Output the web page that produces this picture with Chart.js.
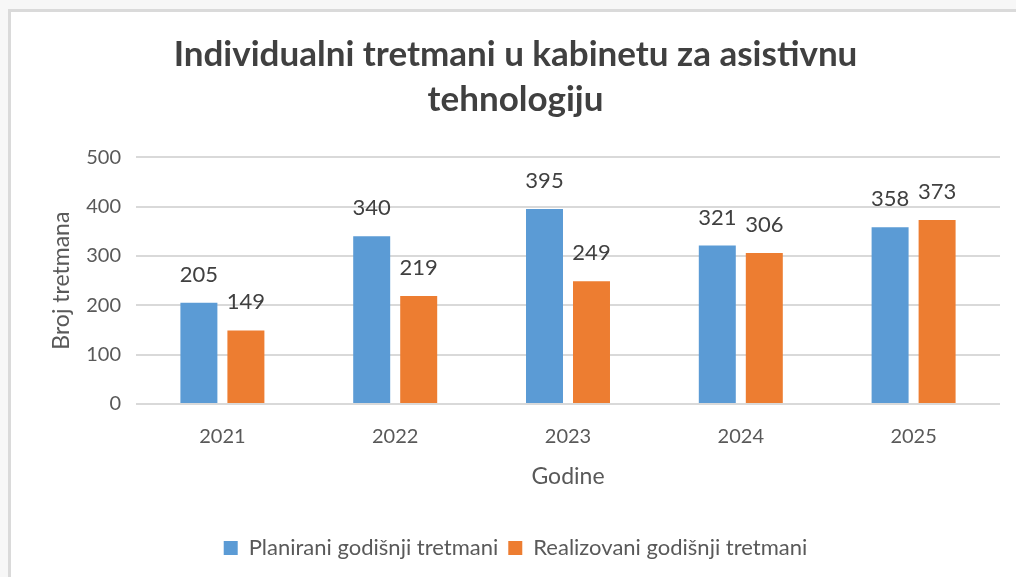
<!DOCTYPE html>
<html>
<head>
<meta charset="utf-8">
<script src="https://cdn.jsdelivr.net/npm/chart.js@4.4.0/dist/chart.umd.min.js"></script>
<style>
  html, body { margin: 0; padding: 0; }
  body { background: #f7f7f7; width: 1016px; height: 577px; overflow: hidden; position: relative; }
  #wrap {
    position: absolute; left: 8px; top: 9px;
    width: 1005px; height: 565px;
    background: #fff;
    border-left: 3px solid #dadada; border-top: 3px solid #dadada;
  }
</style>
</head>
<body>
<div id="wrap"><canvas id="myChart"></canvas></div>
<script>
var godine = ['2021', '2022', '2023', '2024', '2025'];
var planirani = [205, 340, 395, 321, 358];
var realizovani = [149, 219, 249, 306, 373];
var yTicks = [0, 100, 200, 300, 400, 500];

var fontName = 'Lato, Carlito, Calibri, sans-serif';

// upisuje vrijednosti iznad stubaca
var valueLabels = {
  id: 'valueLabels',
  afterDatasetsDraw: function(chart) {
    var ctx = chart.ctx;
    ctx.save();
    ctx.font = '22px ' + fontName;
    ctx.fillStyle = '#404040';
    ctx.textAlign = 'center';
    ctx.textBaseline = 'alphabetic';
    chart.data.datasets.forEach(function(ds, i) {
      var meta = chart.getDatasetMeta(i);
      meta.data.forEach(function(bar, j) {
        ctx.fillText(ds.data[j], bar.x, bar.y - 21);
      });
    });
    ctx.restore();
  }
};

var chartdata = {
  labels: godine,
  datasets: [
    {
      label: 'Planirani godišnji tretmani',
      backgroundColor: '#5b9bd5',
      data: planirani
    },
    {
      label: 'Realizovani godišnji tretmani',
      backgroundColor: '#ed7d31',
      data: realizovani
    }
  ]
};

var ctx = document.getElementById('myChart');

var barGraph = new Chart(ctx, {
  type: 'bar',
  data: chartdata,
  plugins: [valueLabels],
  options: {
    responsive: true,
    maintainAspectRatio: false,
    animation: false,
    categoryPercentage: 0.544,
    barPercentage: 0.787,
    layout: { padding: { left: 20, right: 16, top: 0, bottom: 8 } },
    plugins: {
      title: {
        display: true,
        text: ['Individualni tretmani u kabinetu za asistivnu', 'tehnologiju'],
        color: '#404040',
        font: { family: fontName, size: 35, weight: 'bold', lineHeight: 1.29 },
        padding: { top: 20, bottom: 35 }
      },
      legend: {
        position: 'bottom',
        labels: {
          color: '#595959',
          font: { family: fontName, size: 22 },
          boxWidth: 14,
          boxHeight: 14,
          padding: 10
        }
      },
      tooltip: { enabled: false }
    },
    scales: {
      x: {
        afterFit: function(scale) {
          scale.height = 123;
        },
        grid: { display: false, drawTicks: false },
        border: { display: false },
        ticks: { color: '#595959', font: { family: fontName, size: 20 }, padding: 21 },
        title: {
          display: true,
          text: 'Godine',
          color: '#595959',
          font: { family: fontName, size: 23 },
          padding: { top: 14, bottom: 37 }
        }
      },
      y: {
        min: 0,
        max: 500,
        afterBuildTicks: function(scale) {
          scale.ticks = yTicks.map(function(v) { return { value: v }; });
        },
        afterFit: function(scale) {
          scale.width = 105;
        },
        grid: { color: '#d9d9d9', lineWidth: 2, drawTicks: false },
        border: { display: false },
        ticks: { color: '#595959', font: { family: fontName, size: 20 }, padding: 15 },
        title: {
          display: true,
          text: 'Broj tretmana',
          color: '#595959',
          font: { family: fontName, size: 23 },
          padding: { top: 17, bottom: 10 }
        }
      }
    }
  }
});
</script>
</body>
</html>
